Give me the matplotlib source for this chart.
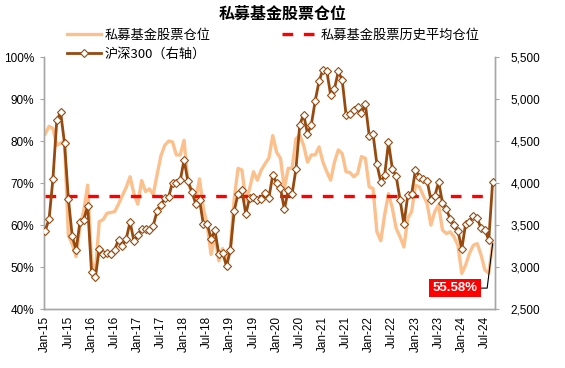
import matplotlib
matplotlib.use("Agg")
import matplotlib.pyplot as plt
import numpy as np
from matplotlib.ticker import FuncFormatter, MultipleLocator
from matplotlib.lines import Line2D

plt.rcParams['font.family'] = ['Liberation Sans', 'Noto Sans CJK SC', 'DejaVu Sans']

# ---- data (monthly, Jan-2015 .. Sep-2024) ----
position = [81.7, 83.5, 83.0, 79.0, 79.5, 80.0, 57.5, 55.5, 52.5, 59.5, 63.5, 69.5,
            51.5, 48.5, 60.8, 61.3, 62.8, 63.0, 63.2, 65.0, 67.0, 69.0, 71.5, 67.5,
            65.0, 70.6, 68.0, 68.6, 67.3, 72.0, 76.5, 79.0, 80.0, 79.8, 76.7, 76.7,
            80.2, 70.0, 68.0, 66.0, 71.0, 64.0, 60.0, 53.0, 57.5, 51.5, 54.4, 51.3,
            54.5, 66.3, 73.5, 73.1, 65.8, 68.7, 72.7, 70.7, 73.1, 74.6, 76.0, 81.3,
            77.3, 75.9, 68.7, 73.5, 73.5, 80.5, 81.4, 79.0, 75.0, 76.7, 76.7, 78.6,
            75.0, 72.7, 70.7, 75.0, 77.9, 77.0, 72.7, 72.5, 71.5, 72.3, 76.3, 75.9,
            69.1, 68.7, 58.4, 56.3, 62.4, 67.5, 64.0, 59.2, 57.2, 54.8, 61.6, 63.2,
            69.5, 69.1, 67.1, 65.2, 60.0, 63.2, 64.8, 58.8, 58.0, 58.4, 57.2, 55.2,
            48.5, 50.5, 53.3, 55.2, 55.6, 52.9, 49.3, 48.5, 55.58]
hs300 = [3434, 3572, 4051, 4749, 4841, 4473, 3816, 3366, 3203, 3534, 3566, 3731,
         2946, 2877, 3218, 3157, 3170, 3154, 3204, 3328, 3253, 3336, 3538, 3310,
         3387, 3453, 3456, 3439, 3493, 3666, 3737, 3822, 3837, 4006, 4006, 4031,
         4275, 4023, 3899, 3756, 3802, 3510, 3517, 3335, 3438, 3153, 3173, 3011,
         3202, 3670, 3873, 3913, 3630, 3826, 3836, 3799, 3815, 3886, 3828, 4097,
         3999, 3940, 3687, 3913, 3868, 4164, 4696, 4816, 4587, 4695, 4980, 5212,
         5351, 5336, 5048, 5124, 5331, 5224, 4812, 4825, 4866, 4908, 4833, 4940,
         4564, 4581, 4223, 4016, 4091, 4485, 4170, 4079, 3804, 3509, 3854, 3872,
         4157, 4077, 4051, 4029, 3799, 3842, 4016, 3765, 3690, 3573, 3497, 3431,
         3216, 3516, 3537, 3605, 3580, 3462, 3443, 3321, 4017]
avg_position = 66.9
last_label = "55.58%"
months = ["Jan", "Jul"]
tick_labels = [f"{months[i % 2]}-{15 + i // 2}" for i in range(20)]

title = "私募基金股票仓位"
lab_pos = "私募基金股票仓位"
lab_avg = "私募基金股票历史平均仓位"
lab_hs = "沪深300（右轴）"

# ---- plot ----
x = np.arange(len(position))
fig = plt.figure(figsize=(5.65, 3.68), dpi=100)
ax = fig.add_axes([0.078, 0.160, 0.798, 0.685])
ax2 = ax.twinx()

peach = "#FCC08C"
brown = "#974A10"
red = "#FF0000"
grey = "#A6A6A6"

ax.plot(x, position, color=peach, lw=2.4, zorder=2, solid_joinstyle='round')
ax.plot([x[0], x[-1]], [avg_position, avg_position], color=red, lw=2.4,
        dashes=(3.2, 3.2), zorder=3)
ax2.plot(x, hs300, color=brown, lw=2.0, marker='D', markersize=4.2,
         markerfacecolor='white', markeredgecolor=brown, markeredgewidth=0.8, zorder=4)

ax.set_xlim(-0.3, 116.6)
ax.set_ylim(40, 100)
ax2.set_ylim(2500, 5500)
ax.yaxis.set_major_locator(MultipleLocator(10))
ax2.yaxis.set_major_locator(MultipleLocator(500))
ax.yaxis.set_major_formatter(FuncFormatter(lambda v, p: f"{v:.0f}%"))
ax2.yaxis.set_major_formatter(FuncFormatter(lambda v, p: f"{v:,.0f}"))
ax.set_xticks(np.arange(0, 116, 6))
ax.set_xticklabels(tick_labels, rotation=90, fontsize=8.5)

for a in (ax, ax2):
    a.spines['top'].set_visible(False)
    for s in ('left', 'right', 'bottom'):
        a.spines[s].set_color(grey)
        a.spines[s].set_linewidth(1.0)
ax.tick_params(axis='y', direction='out', length=3, color=grey, labelsize=8.5, pad=4)
ax2.tick_params(axis='y', direction='out', length=3, color=grey, labelsize=8.5, pad=8)
ax.tick_params(axis='x', length=0, pad=5)

# annotation of the last value
ax.annotate(last_label, xy=(x[-1], position[-1]), xytext=(106.3, 45.0),
            ha='center', va='center', color='white', fontsize=9.5, fontweight='bold',
            bbox=dict(boxstyle='square,pad=0.25', fc=red, ec='none'),
            arrowprops=dict(arrowstyle='-', color='black', lw=0.8,
                            connectionstyle='angle,angleA=0,angleB=83,rad=0',
                            shrinkA=0, shrinkB=0), zorder=6)

fig.suptitle(title, x=0.5, y=0.985, fontsize=11.5, fontweight='bold',
             family=['Noto Sans CJK SC'])

h_pos = Line2D([], [], color=peach, lw=2.4)
h_avg = Line2D([], [], color=red, lw=2.4, dashes=(3.2, 3.2))
h_hs = Line2D([], [], color=brown, lw=2.0, marker='D', markersize=4.2,
              markerfacecolor='white', markeredgecolor=brown, markeredgewidth=0.8)
fig.legend([h_pos, h_hs, h_avg], [lab_pos, lab_hs, lab_avg], ncol=2,
           loc='upper left', bbox_to_anchor=(0.118, 0.922), frameon=False,
           borderpad=0, borderaxespad=0, handlelength=2.6, handletextpad=0.3,
           columnspacing=5.4, labelspacing=0.45,
           prop=dict(family=['Noto Sans CJK SC'], size=9.5))

fig.savefig("out.png", dpi=100)
